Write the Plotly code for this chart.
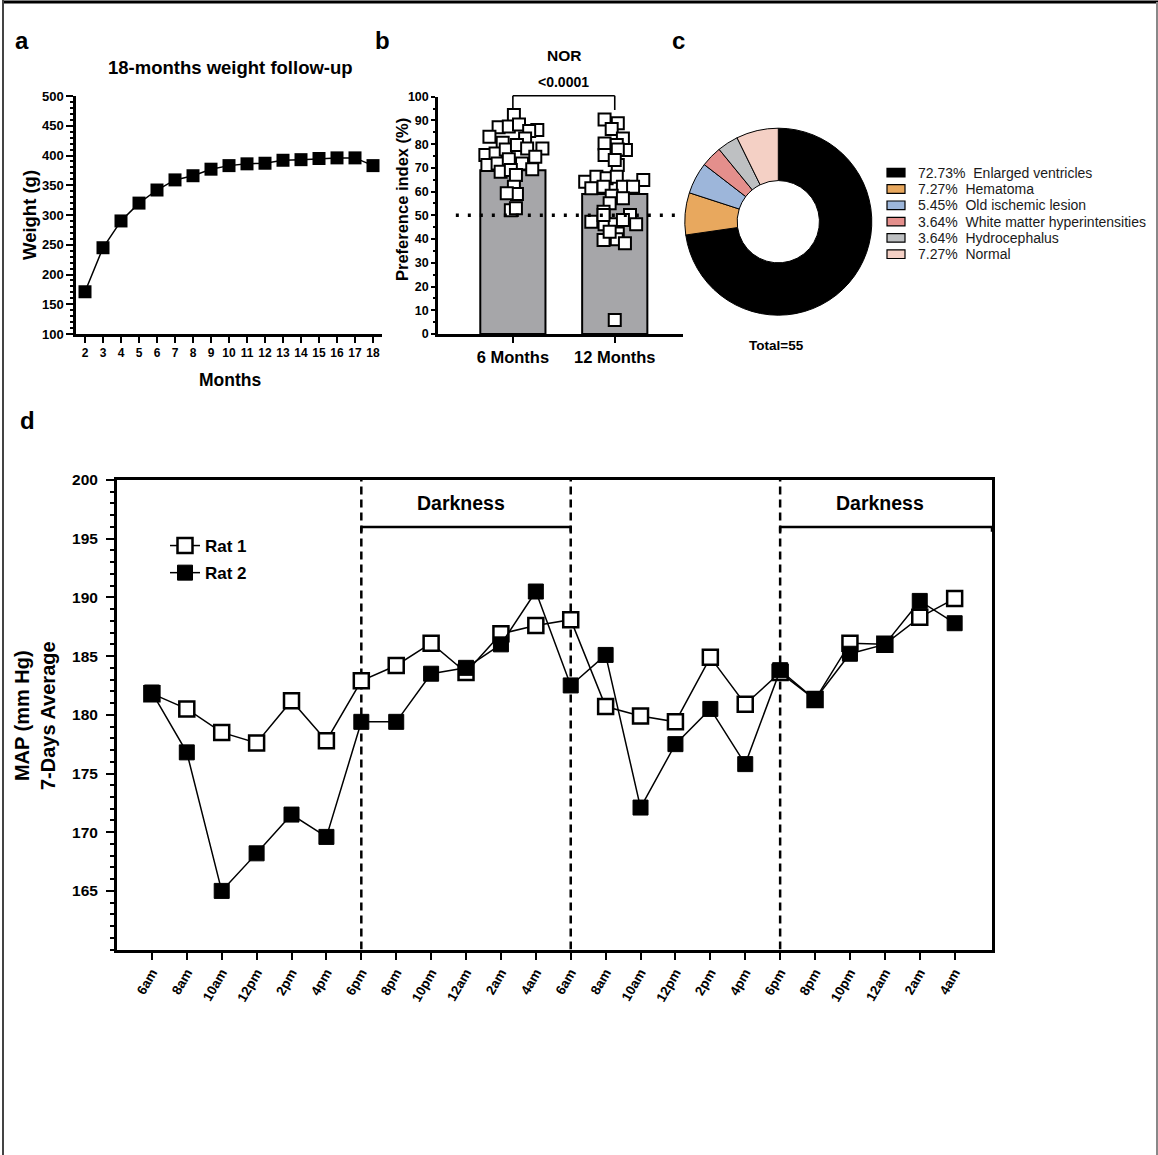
import plotly.graph_objects as go

W, H = 1158, 1155


def px(x):
    return x / W


def py(y):
    return 1 - y / H


FONT = "Liberation Sans, Arial, Helvetica, sans-serif"

# ---------------- data ----------------
# panel a
months = list(range(2, 19))
weight_g = [171, 245, 290, 320, 342, 359, 366, 377, 383, 386, 387, 392, 393, 395, 396, 396, 383]

# panel b
nor_groups = ["6 Months", "12 Months"]
nor_bar = [69, 59]
nor_6m = [92.3, 87.1, 87.4, 88.3, 86.0, 85.5, 83.1, 80.6, 82.4, 78.2, 75.4, 76.1, 77.8, 79.6,
          78.2, 74.7, 71.2, 71.9, 73.6, 71.9, 69.4, 68.4, 69.1, 67.0, 62.1, 59.0, 59.3, 52.2, 53.0]
nor_6m_jitter = [0.01, -0.14, -0.04, 0.06, 0.24, 0.16, -0.23, -0.10, 0.12, 0.29, -0.27, -0.17, -0.07, 0.04,
                 0.14, 0.22, -0.25, -0.15, -0.04, 0.09, 0.19, -0.12, -0.02, 0.03, 0.01, 0.04, -0.06, -0.02, 0.03]
nor_12m = [90.4, 88.8, 86.4, 82.4, 80.3, 79.6, 77.5, 77.8, 75.4, 71.2, 73.3, 64.2, 66.3, 65.6, 66.3, 64.9,
           61.4, 62.1, 62.1, 62.1, 58.3, 57.2, 55.1, 51.5, 50.1, 47.3, 46.3, 46.3, 48.0, 46.3, 50.1,
           42.4, 39.6, 39.9, 38.2, 43.1, 5.9]
nor_12m_jitter = [-0.10, 0.03, -0.03, 0.08, -0.10, 0.02, 0.11, 0.03, -0.10, 0.03, 0.0, -0.29, -0.18, -0.08, 0.02, 0.28,
                  -0.23, -0.11, 0.08, 0.18, -0.03, 0.08, -0.05, -0.11, 0.15, -0.23, -0.10, 0.0, 0.08, 0.21, -0.11,
                  0.03, -0.11, 0.02, 0.10, -0.05, 0.0]
nor_p = "<0.0001"

# panel c
lesion_labels = ["Enlarged ventricles", "Hematoma", "Old ischemic lesion",
                 "White matter hyperintensities", "Hydrocephalus", "Normal"]
lesion_counts = [40, 4, 3, 2, 2, 4]
lesion_colors = ["#000000", "#E8A85E", "#9DB6DA", "#E48F8C", "#BEC0C2", "#F4D0C5"]

# panel d
time_labels = ["6am", "8am", "10am", "12pm", "2pm", "4pm", "6pm", "8pm", "10pm", "12am", "2am", "4am",
               "6am", "8am", "10am", "12pm", "2pm", "4pm", "6pm", "8pm", "10pm", "12am", "2am", "4am"]
rat1_map = [181.8, 180.5, 178.5, 177.6, 181.2, 177.8, 182.9, 184.2, 186.1, 183.6, 186.9, 187.6,
            188.1, 180.7, 179.9, 179.4, 184.9, 180.9, 183.6, 181.3, 186.1, 186.0, 188.3, 189.9]
rat2_map = [181.9, 176.8, 165.0, 168.2, 171.5, 169.6, 179.4, 179.4, 183.5, 184.0, 186.0, 190.5,
            182.5, 185.1, 172.1, 177.5, 180.5, 175.8, 183.8, 181.3, 185.2, 186.0, 189.7, 187.8]
dark_start = [6, 18]
dark_end = [12, 24.07]

# ---------------- figure ----------------
fig = go.Figure()

# panel a
fig.add_trace(go.Scatter(x=months, y=weight_g, mode="lines+markers", xaxis="x", yaxis="y",
                         line=dict(color="black", width=1.5),
                         marker=dict(symbol="square", size=13, color="black"),
                         showlegend=False))

# panel b
B_XRANGE = [-0.735, 1.67]
B_YRANGE = [0, 100]
B_YDOM = [py(334), py(96.7)]
fig.add_trace(go.Bar(x=[0, 1], y=nor_bar, width=0.64, xaxis="x2", yaxis="y2",
                     marker=dict(color="#A6A6A9", line=dict(color="black", width=2)),
                     showlegend=False))
fig.add_trace(go.Scatter(x=[0 + j for j in nor_6m_jitter], y=nor_6m, mode="markers",
                         xaxis="x2", yaxis="y2", showlegend=False,
                         marker=dict(symbol="square", size=12, color="white",
                                     line=dict(color="black", width=2))))
fig.add_trace(go.Scatter(x=[1 + j for j in nor_12m_jitter], y=nor_12m, mode="markers",
                         xaxis="x2", yaxis="y2", showlegend=False,
                         marker=dict(symbol="square", size=12, color="white",
                                     line=dict(color="black", width=2))))

# panel c
fig.add_trace(go.Pie(values=lesion_counts, labels=lesion_labels, hole=0.44, sort=False,
                     direction="clockwise", rotation=0, textinfo="none", showlegend=False,
                     marker=dict(colors=lesion_colors, line=dict(color="black", width=1)),
                     domain=dict(x=[px(684.8), px(871.8)], y=[py(315.2), py(128.2)])))

# panel d
fig.add_trace(go.Scatter(x=list(range(len(time_labels))), y=rat1_map, mode="lines+markers",
                         name="Rat 1", xaxis="x3", yaxis="y3", legendgroup="r1",
                         line=dict(color="black", width=1.5),
                         marker=dict(symbol="square", size=15, color="white",
                                     line=dict(color="black", width=2.5))))
fig.add_trace(go.Scatter(x=list(range(len(time_labels))), y=rat2_map, mode="lines+markers",
                         name="Rat 2", xaxis="x3", yaxis="y3", legendgroup="r2",
                         line=dict(color="black", width=1.5),
                         marker=dict(symbol="square", size=15, color="black",
                                     line=dict(color="black", width=1))))

axis_common = dict(showgrid=False, zeroline=False, showline=True, linecolor="black",
                   ticks="outside", tickcolor="black", automargin=False)


def tf(size):
    return dict(family=FONT, size=size, weight="bold", color="black")


shapes = []
# frame
shapes.append(dict(type="line", xref="paper", yref="paper", x0=px(2), x1=1, y0=py(2), y1=py(2),
                   line=dict(color="black", width=3)))
shapes.append(dict(type="line", xref="paper", yref="paper", x0=px(3), x1=px(3), y0=py(0), y1=0,
                   line=dict(color="#444444", width=2)))
shapes.append(dict(type="line", xref="paper", yref="paper", x0=px(1157), x1=px(1157), y0=py(2), y1=0,
                   line=dict(color="#888888", width=2)))
# chance line panel b
shapes.append(dict(type="line", xref="x2", yref="y2", x0=-0.56, x1=1.67, y0=50, y1=50,
                   line=dict(color="black", width=3.5, dash="3px,9px")))


# significance bracket (drawn in axis-domain / paper units so it is not clipped)
def bx(v):
    return (v - B_XRANGE[0]) / (B_XRANGE[1] - B_XRANGE[0])


def by(v):
    return B_YDOM[0] + (v - B_YRANGE[0]) / (B_YRANGE[1] - B_YRANGE[0]) * (B_YDOM[1] - B_YDOM[0])


bracket = dict(color="black", width=1.6)
shapes.append(dict(type="line", xref="x2 domain", yref="paper", x0=bx(0), x1=bx(1),
                   y0=by(100.4), y1=by(100.4), line=bracket))
for xv in (0, 1):
    shapes.append(dict(type="line", xref="x2 domain", yref="paper", x0=bx(xv), x1=bx(xv),
                       y0=by(100.4), y1=by(94.4), line=bracket))

# dashed separators panel d
for xv in [6, 12, 18]:
    shapes.append(dict(type="line", xref="x3", yref="y3", x0=xv, x1=xv, y0=160, y1=200, layer="below",
                       line=dict(color="black", width=2.5, dash="8px,5px")))
# darkness brackets
for s, e in zip(dark_start, dark_end):
    shapes.append(dict(type="line", xref="x3", yref="y3", x0=s, x1=e, y0=196, y1=196,
                       line=dict(color="black", width=2.5)))
    for xe in (s, e):
        shapes.append(dict(type="line", xref="x3", yref="y3", x0=xe, x1=xe, y0=196, y1=195.6,
                           line=dict(color="black", width=2.5)))

annotations = []


def ann(text, x, y, size, bold=True, **kw):
    d = dict(text=text, x=x, y=y, xref=kw.pop("xref", "paper"), yref=kw.pop("yref", "paper"),
             showarrow=False, xanchor=kw.pop("xanchor", "center"), yanchor=kw.pop("yanchor", "middle"),
             font=dict(family=FONT, size=size, color=kw.pop("color", "black"),
                       weight="bold" if bold else "normal"))
    d.update(kw)
    annotations.append(d)


# panel letters
ann("a", px(22), py(41), 24)
ann("b", px(383), py(40), 24)
ann("c", px(678), py(41), 24)
ann("d", px(27), py(421), 24)
# panel a texts
ann("18-months weight follow-up", px(230), py(67), 18.5)
ann("Months", px(230), py(380), 17.5)
ann("Weight (g)", px(29), py(215), 18.5, textangle=-90)
# panel b texts
ann("NOR", px(564), py(55), 15.5)
ann(nor_p, bx(0.5), py(82), 14, xref="x2 domain")
ann("Preference index (%)", px(402), py(200), 16.5, textangle=-90)
# panel c texts
ann("Total=55", px(776), py(345), 13.5)
total = sum(lesion_counts)
rows = [172.7, 189.0, 205.3, 221.6, 237.9, 254.2]
for lab, c, col, ry in zip(lesion_labels, lesion_counts, lesion_colors, rows):
    shapes.append(dict(type="rect", xref="paper", yref="paper", x0=px(887), x1=px(905),
                       y0=py(ry + 4.3), y1=py(ry - 4.3), fillcolor=col,
                       line=dict(color="black", width=1.2)))
    pct = f"{100 * c / total:.2f}%"
    ann(f"{pct}&nbsp;&nbsp;{lab}", px(916), py(ry), 14, bold=False, xanchor="left",
        yanchor="middle", color="#1a1a1a")
# panel d texts
ann("MAP (mm Hg)<br>7-Days Average", px(35), py(716), 20, textangle=-90)
ann("Darkness", 8.85, 198.0, 19.5, xref="x3", yref="y3")
ann("Darkness", 20.86, 198.0, 19.5, xref="x3", yref="y3")

fig.update_layout(
    width=W, height=H, margin=dict(l=0, r=0, t=0, b=0, pad=0, autoexpand=False),
    paper_bgcolor="white", plot_bgcolor="rgba(0,0,0,0)",
    font=dict(family=FONT, color="black"),
    showlegend=True,
    legend=dict(x=px(165), y=py(528), xanchor="left", yanchor="top", bgcolor="rgba(0,0,0,0)",
                font=dict(family=FONT, size=17, weight="bold", color="black"),
                traceorder="grouped", tracegroupgap=2, itemwidth=30),
    xaxis=dict(domain=[px(76), px(382)], range=[1.5, 18.5], anchor="y", tickmode="array",
               tickvals=months, ticklen=6, tickwidth=2, linewidth=2.5,
               tickfont=tf(12), **axis_common),
    yaxis=dict(domain=[py(334), py(96)], range=[100, 500], anchor="x", dtick=50, tick0=100,
               ticklen=7, tickwidth=2, linewidth=2.5, tickfont=tf(13),
               minor=dict(dtick=10, ticks="outside", ticklen=3, tickwidth=1.5, tickcolor="black"),
               **axis_common),
    xaxis2=dict(domain=[px(438), px(683)], range=B_XRANGE, anchor="y2", tickmode="array",
                tickvals=[0, 1], ticktext=nor_groups, ticklen=6, tickwidth=2, linewidth=2.5,
                tickfont=tf(16.5), **axis_common),
    yaxis2=dict(domain=B_YDOM, range=B_YRANGE, anchor="x2", dtick=10, tick0=0,
                ticklen=4, tickwidth=2, linewidth=2.5, tickfont=tf(12.5),
                minor=dict(dtick=5, ticks="outside", ticklen=2.5, tickwidth=1.5, tickcolor="black"),
                **axis_common),
    xaxis3=dict(domain=[px(117), px(992)], range=[-1, 24.07], anchor="y3", tickmode="array",
                tickvals=list(range(len(time_labels))), ticktext=time_labels, tickangle=-60,
                ticklen=7, tickwidth=2, linewidth=3, mirror=True,
                tickfont=tf(13.5), **axis_common),
    yaxis3=dict(domain=[py(949.6), py(480)], range=[160, 200], anchor="x3", tickmode="array",
                tickvals=[165, 170, 175, 180, 185, 190, 195, 200], ticklen=8, tickwidth=2,
                linewidth=3, mirror=True, tickfont=tf(15.5), ticklabelstandoff=5,
                minor=dict(tickmode="linear", tick0=160, dtick=1, ticks="outside", ticklen=4,
                           tickwidth=1.5, tickcolor="black"),
                **axis_common),
    shapes=shapes,
    annotations=annotations,
)

fig.write_html("out.html", config={"displayModeBar": False},
               post_script="document.body.style.margin='0';")
